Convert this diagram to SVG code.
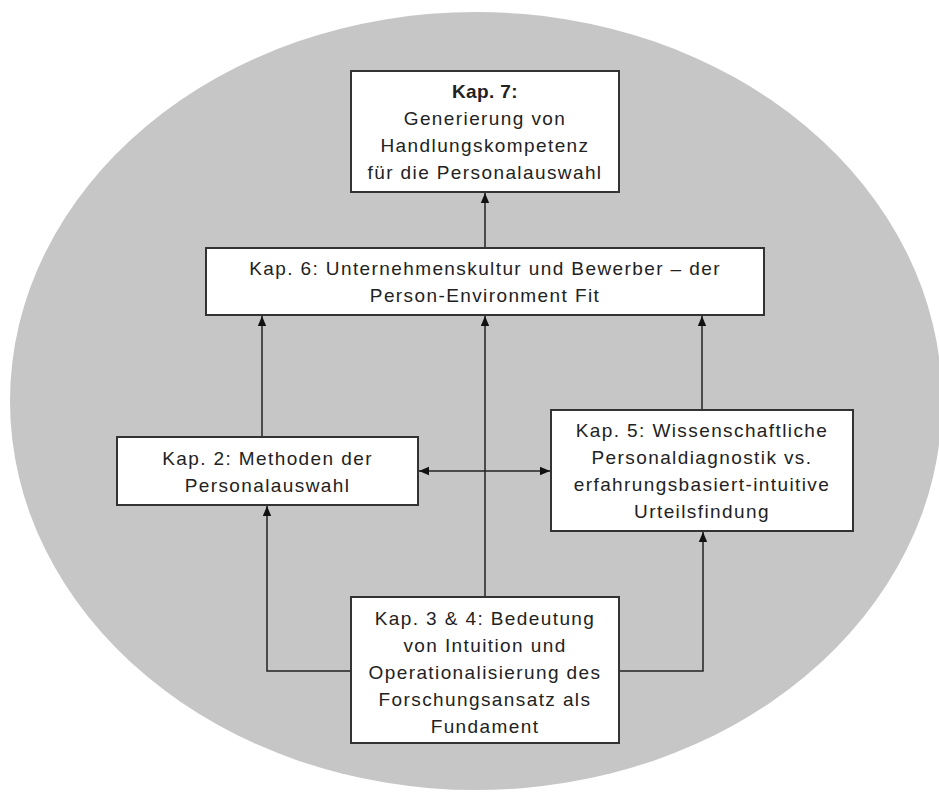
<svg xmlns="http://www.w3.org/2000/svg" width="939" height="796" viewBox="0 0 939 796">
<style>
.box{fill:#ffffff;stroke:#333333;stroke-width:2}
.t{font-family:"Liberation Sans",Arial,sans-serif;font-size:19px;letter-spacing:1.4px;fill:#222222;text-anchor:middle}
.b{font-weight:bold;letter-spacing:0.4px}
.c{fill:none;stroke:#222222;stroke-width:1.5}
</style>
<defs>
<marker id="ah" markerUnits="userSpaceOnUse" markerWidth="10" markerHeight="10" viewBox="0 0 10 10" refX="10" refY="5" orient="auto-start-reverse">
<path d="M0,0.8 L10,5 L0,9.2 Z" fill="#111111"/>
</marker>
</defs>
<rect width="939" height="796" fill="#ffffff"/>
<ellipse cx="476" cy="401" rx="466" ry="389" fill="#c6c6c6"/>
<g id="connectors">
<path class="c" d="M485,248 L485,193" marker-end="url(#ah)"/>
<path class="c" d="M262,437 L262,316" marker-end="url(#ah)"/>
<path class="c" d="M485,597 L485,316" marker-end="url(#ah)"/>
<path class="c" d="M702,410 L702,316" marker-end="url(#ah)"/>
<path class="c" d="M419,471 L550,471" marker-start="url(#ah)" marker-end="url(#ah)"/>
<path class="c" d="M351,671 L267,671 L267,506" marker-end="url(#ah)"/>
<path class="c" d="M619,671 L703,671 L703,532" marker-end="url(#ah)"/>
</g>
<g id="kap7">
<rect class="box" x="351" y="71" width="268" height="121"/>
<text class="t b" x="485" y="98">Kap. 7:</text>
<text class="t" x="485" y="125">Generierung von</text>
<text class="t" x="485" y="152">Handlungskompetenz</text>
<text class="t" x="485" y="179">für die Personalauswahl</text>
</g>
<g id="kap6">
<rect class="box" x="206" y="248" width="558" height="67"/>
<text class="t" x="485" y="275">Kap. 6: Unternehmenskultur und Bewerber – der</text>
<text class="t" x="485" y="302">Person-Environment Fit</text>
</g>
<g id="kap2">
<rect class="box" x="117" y="437" width="301" height="68"/>
<text class="t" x="267.5" y="465">Kap. 2: Methoden der</text>
<text class="t" x="267.5" y="492">Personalauswahl</text>
</g>
<g id="kap5">
<rect class="box" x="551" y="410" width="302" height="121"/>
<text class="t" x="702" y="437">Kap. 5: Wissenschaftliche</text>
<text class="t" x="702" y="464">Personaldiagnostik vs.</text>
<text class="t" x="702" y="491">erfahrungsbasiert-intuitive</text>
<text class="t" x="702" y="518">Urteilsfindung</text>
</g>
<g id="kap34">
<rect class="box" x="351" y="597" width="268" height="146"/>
<text class="t" x="485" y="625">Kap. 3 &amp; 4: Bedeutung</text>
<text class="t" x="485" y="652">von Intuition und</text>
<text class="t" x="485" y="679">Operationalisierung des</text>
<text class="t" x="485" y="706">Forschungsansatz als</text>
<text class="t" x="485" y="733">Fundament</text>
</g>
</svg>
